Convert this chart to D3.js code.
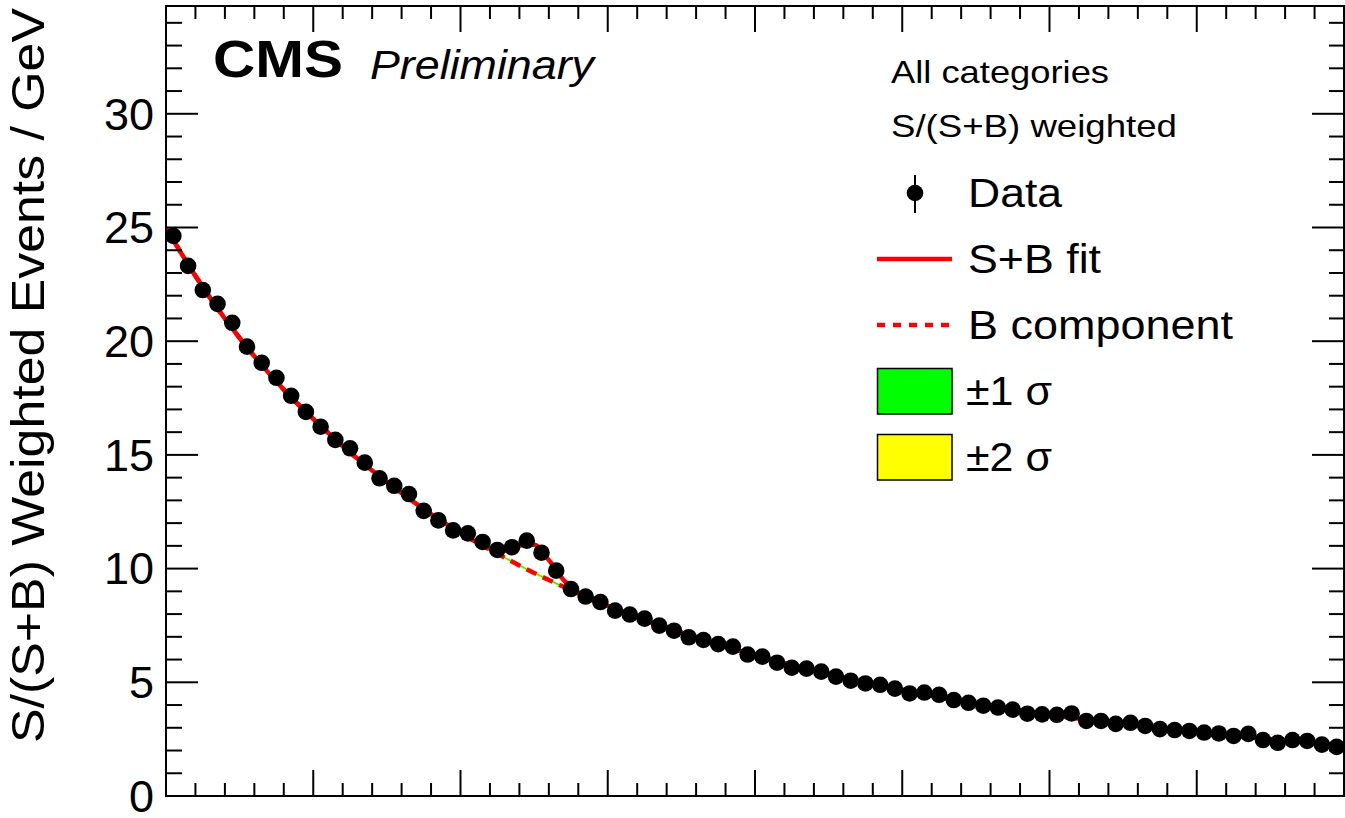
<!DOCTYPE html>
<html>
<head>
<meta charset="utf-8">
<script src="https://cdn.jsdelivr.net/npm/d3@7"></script>
<style>
  html, body { margin: 0; padding: 0; background: #fff; }
  svg { display: block; }
  text { font-family: "Liberation Sans", Arial, Helvetica, sans-serif; fill: #000; }
</style>
</head>
<body>
<svg id="chart" width="1345" height="818"></svg>
<script>
// ---------------- DATA ----------------
const massBins = [100.5,101.5,102.5,103.5,104.5,105.5,106.5,107.5,108.5,109.5,
  110.5,111.5,112.5,113.5,114.5,115.5,116.5,117.5,118.5,119.5,
  120.5,121.5,122.5,123.5,124.5,125.5,126.5,127.5,128.5,129.5,
  130.5,131.5,132.5,133.5,134.5,135.5,136.5,137.5,138.5,139.5,
  140.5,141.5,142.5,143.5,144.5,145.5,146.5,147.5,148.5,149.5,
  150.5,151.5,152.5,153.5,154.5,155.5,156.5,157.5,158.5,159.5,
  160.5,161.5,162.5,163.5,164.5,165.5,166.5,167.5,168.5,169.5,
  170.5,171.5,172.5,173.5,174.5,175.5,176.5,177.5,178.5,179.5];

const dataValues = [24.63,23.31,22.25,21.64,20.81,19.76,19.05,18.39,17.60,16.89,
  16.24,15.66,15.29,14.66,13.97,13.64,13.28,12.54,12.12,11.68,
  11.55,11.17,10.82,10.94,11.23,10.70,9.91,9.10,8.77,8.53,
  8.15,7.98,7.80,7.49,7.27,6.98,6.86,6.68,6.57,6.22,
  6.13,5.86,5.64,5.60,5.47,5.25,5.07,4.95,4.89,4.72,
  4.51,4.55,4.45,4.22,4.10,3.97,3.89,3.80,3.62,3.59,
  3.57,3.63,3.30,3.30,3.17,3.22,3.08,2.94,2.90,2.86,
  2.79,2.75,2.64,2.73,2.46,2.34,2.46,2.42,2.26,2.16];

const fitMass = [100,102,104,106,108,110,112,114,116,118,
  119,120,121,122,123,124,125,126,127,128,129,130,131,
  132,134,136,138,140,142,144,146,148,150,152,154,156,158,160,
  162,164,166,168,170,172,174,176,178,180];

const bFit = [24.98,22.87,20.99,19.34,17.87,16.58,15.39,14.31,13.32,12.40,
  11.98,11.57,11.19,10.83,10.48,10.14,9.81,9.50,9.20,8.91,8.63,8.36,8.11,
  7.86,7.40,6.97,6.57,6.19,5.84,5.52,5.21,4.92,4.66,4.41,4.18,3.97,3.76,3.57,
  3.40,3.24,3.09,2.95,2.81,2.68,2.56,2.44,2.33,2.22];

const sbFit = [24.98,22.87,20.99,19.34,17.87,16.58,15.39,14.31,13.32,12.40,
  11.98,11.57,11.19,10.88,10.78,11.01,11.05,10.37,9.50,8.96,8.63,8.36,8.11,
  7.86,7.40,6.97,6.57,6.19,5.84,5.52,5.21,4.92,4.66,4.41,4.18,3.97,3.76,3.57,
  3.40,3.24,3.09,2.95,2.81,2.68,2.56,2.44,2.33,2.22];

const band1 = [0.09,0.08,0.07,0.06,0.055,0.05,0.045,0.04,0.04,0.035,
  0.035,0.035,0.03,0.03,0.03,0.03,0.03,0.03,0.03,0.03,0.03,0.03,0.03,
  0.03,0.03,0.03,0.03,0.03,0.03,0.03,0.03,0.03,0.03,0.03,0.03,0.03,0.03,0.03,
  0.03,0.035,0.035,0.04,0.04,0.045,0.045,0.05,0.05,0.055];

const band2 = [0.18,0.16,0.14,0.12,0.11,0.10,0.09,0.08,0.08,0.07,
  0.07,0.07,0.06,0.06,0.06,0.06,0.06,0.06,0.06,0.06,0.06,0.06,0.06,
  0.06,0.06,0.06,0.06,0.06,0.06,0.06,0.06,0.06,0.06,0.06,0.06,0.06,0.06,0.06,
  0.06,0.07,0.07,0.08,0.08,0.09,0.09,0.10,0.10,0.11];

const xDomain = [100, 180];
const yDomain = [0, 34.74];
const yTickLabels = [0, 5, 10, 15, 20, 25, 30];

const yTitle = "S/(S+B) Weighted Events / GeV";
const legendHeader = ["All categories", "S/(S+B) weighted"];
const legendLabels = ["Data", "S+B fit", "B component", "\u00b11 \u03c3", "\u00b12 \u03c3"];

// ---------------- LAYOUT ----------------
const svg = d3.select("#chart");
const L = 166, R = 1344, T = 6, B = 796;

const x = d3.scaleLinear().domain(xDomain).range([L, R]);
const y = d3.scaleLinear().domain(yDomain).range([B, T]);

svg.append("rect").attr("width", 1345).attr("height", 818).attr("fill", "#fff");

svg.append("clipPath").attr("id", "plotclip")
  .append("rect").attr("x", L).attr("y", T).attr("width", R - L).attr("height", B - T);

const plot = svg.append("g").attr("clip-path", "url(#plotclip)");

const fitPts = fitMass.map((m, i) => ({m, b: bFit[i], sb: sbFit[i], e1: band1[i], e2: band2[i]}));

// bands
plot.append("path").datum(fitPts)
  .attr("d", d3.area().x(d => x(d.m)).y0(d => y(d.b - d.e2)).y1(d => y(d.b + d.e2)).curve(d3.curveMonotoneX))
  .attr("fill", "#ffff00");
plot.append("path").datum(fitPts)
  .attr("d", d3.area().x(d => x(d.m)).y0(d => y(d.b - d.e1)).y1(d => y(d.b + d.e1)).curve(d3.curveMonotoneX))
  .attr("fill", "#00ff00");

// S+B fit
plot.append("path").datum(fitPts)
  .attr("d", d3.line().x(d => x(d.m)).y(d => y(d.sb)).curve(d3.curveMonotoneX))
  .attr("fill", "none").attr("stroke", "#ff0000").attr("stroke-width", 4.5);

// B component
plot.append("path").datum(fitPts)
  .attr("d", d3.line().x(d => x(d.m)).y(d => y(d.b)).curve(d3.curveMonotoneX))
  .attr("fill", "none").attr("stroke", "#ff0000").attr("stroke-width", 4.5)
  .attr("stroke-dasharray", "11,7");

// data points
plot.selectAll("circle.data").data(massBins.map((m, i) => ({m, v: dataValues[i]})))
  .join("circle").attr("class", "data")
  .attr("cx", d => x(d.m)).attr("cy", d => y(d.v)).attr("r", 8.3).attr("fill", "#000");

// ---------------- AXES / FRAME ----------------
const axG = svg.append("g").attr("stroke", "#000").attr("stroke-width", 2);
axG.append("rect").attr("x", L).attr("y", T).attr("width", R - L).attr("height", B - T).attr("fill", "none");

const xMajor = x.ticks(8);
const xMinor = d3.range(xDomain[0], xDomain[1] + 0.001, 2).filter(v => xMajor.indexOf(v) < 0);
const yMajor = yTickLabels;
const yMinor = d3.range(0, yDomain[1], 1).filter(v => yMajor.indexOf(v) < 0);

xMajor.forEach(v => {
  axG.append("line").attr("x1", x(v)).attr("x2", x(v)).attr("y1", B).attr("y2", B - 26);
  axG.append("line").attr("x1", x(v)).attr("x2", x(v)).attr("y1", T).attr("y2", T + 26);
});
xMinor.forEach(v => {
  axG.append("line").attr("x1", x(v)).attr("x2", x(v)).attr("y1", B).attr("y2", B - 13);
  axG.append("line").attr("x1", x(v)).attr("x2", x(v)).attr("y1", T).attr("y2", T + 13);
});
yMajor.forEach(v => {
  axG.append("line").attr("x1", L).attr("x2", L + 32).attr("y1", y(v)).attr("y2", y(v));
  axG.append("line").attr("x1", R).attr("x2", R - 32).attr("y1", y(v)).attr("y2", y(v));
});
yMinor.forEach(v => {
  axG.append("line").attr("x1", L).attr("x2", L + 16).attr("y1", y(v)).attr("y2", y(v));
  axG.append("line").attr("x1", R).attr("x2", R - 15).attr("y1", y(v)).attr("y2", y(v));
});

// y tick labels
svg.append("g").selectAll("text").data(yTickLabels).join("text")
  .attr("x", 154).attr("y", d => y(d)).attr("dy", "0.35em")
  .attr("text-anchor", "end").attr("font-size", 45)
  .text(d => d);

// y title
svg.append("text")
  .attr("transform", "translate(44," + ((8 + 743) / 2) + ") rotate(-90)")
  .attr("text-anchor", "middle").attr("font-size", 46)
  .attr("textLength", 735).attr("lengthAdjust", "spacingAndGlyphs")
  .text(yTitle);

// CMS Preliminary
svg.append("text").attr("x", 213).attr("y", 77).attr("font-size", 51).attr("font-weight", "bold")
  .attr("textLength", 130).attr("lengthAdjust", "spacingAndGlyphs").text("CMS");
svg.append("text").attr("x", 370).attr("y", 79).attr("font-size", 41).attr("font-style", "italic")
  .attr("textLength", 224).attr("lengthAdjust", "spacingAndGlyphs").text("Preliminary");

// ---------------- LEGEND ----------------
const lg = svg.append("g");
lg.append("text").attr("x", 891).attr("y", 83).attr("font-size", 31.5)
  .attr("textLength", 218).attr("lengthAdjust", "spacingAndGlyphs").text(legendHeader[0]);
lg.append("text").attr("x", 891).attr("y", 137).attr("font-size", 31.5)
  .attr("textLength", 286).attr("lengthAdjust", "spacingAndGlyphs").text(legendHeader[1]);

const rowY = [193, 259, 325, 391, 457];
const textLens = [94, 133, 265, 86, 86];
// Data marker
lg.append("line").attr("x1", 915).attr("x2", 915).attr("y1", rowY[0] - 18).attr("y2", rowY[0] + 20)
  .attr("stroke", "#000").attr("stroke-width", 2);
lg.append("circle").attr("cx", 915).attr("cy", rowY[0]).attr("r", 8.3).attr("fill", "#000");
// S+B line
lg.append("line").attr("x1", 877).attr("x2", 952).attr("y1", rowY[1]).attr("y2", rowY[1])
  .attr("stroke", "#ff0000").attr("stroke-width", 4.5);
// B dashed
lg.append("line").attr("x1", 877).attr("x2", 952).attr("y1", rowY[2]).attr("y2", rowY[2])
  .attr("stroke", "#ff0000").attr("stroke-width", 4.5).attr("stroke-dasharray", "8,8");
// boxes
lg.append("rect").attr("x", 877.5).attr("y", 368.5).attr("width", 74.5).attr("height", 45.5)
  .attr("fill", "#00ff00").attr("stroke", "#000").attr("stroke-width", 1.5);
lg.append("rect").attr("x", 877.5).attr("y", 434.5).attr("width", 74.5).attr("height", 45.5)
  .attr("fill", "#ffff00").attr("stroke", "#000").attr("stroke-width", 1.5);

legendLabels.forEach((t, i) => {
  lg.append("text").attr("x", i >= 3 ? 966 : 968).attr("y", rowY[i] + 14)
    .attr("font-size", 40)
    .attr("textLength", textLens[i]).attr("lengthAdjust", "spacingAndGlyphs")
    .text(t);
});
</script>
</body>
</html>
